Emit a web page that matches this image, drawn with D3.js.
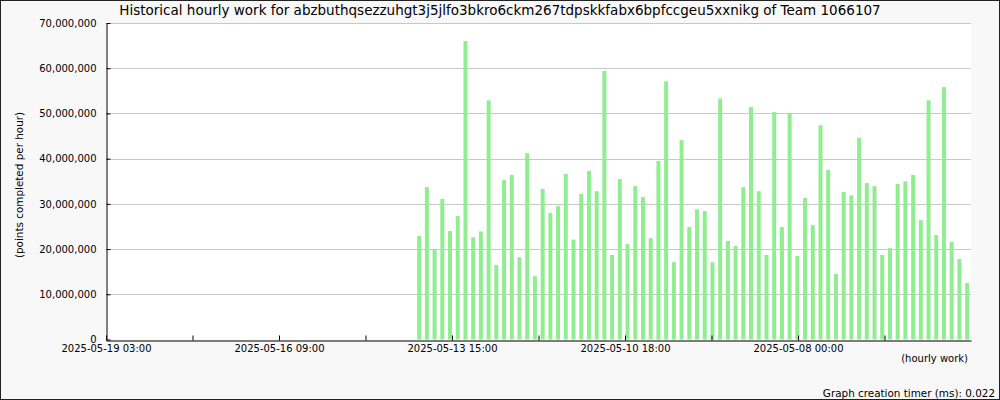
<!DOCTYPE html>
<html><head><meta charset="utf-8">
<script src="https://cdn.jsdelivr.net/npm/d3@7"></script>
<style>html,body{margin:0;padding:0;background:#fff}svg{display:block}text{font-family:"DejaVu Sans",sans-serif;fill:#000}</style>
</head><body>
<svg id="c" width="1000" height="400"></svg>
<script>
const titleText = "Historical hourly work for abzbuthqsezzuhgt3j5jlfo3bkro6ckm267tdpskkfabx6bpfccgeu5xxnikg of Team 1066107";
const yLabelText = "(points completed per hour)";
const xLabelText = "(hourly work)";
const footerText = "Graph creation timer (ms): 0.022";
// hours elapsed back in time from the left edge
const axisHours = [0, 330];
const tickHours = [0, 33, 66, 99, 132, 165, 198, 231, 264, 297];
const tickLabels = ["2025-05-19 03:00", "", "2025-05-16 09:00", "", "2025-05-13 15:00", "", "2025-05-10 18:00", "", "2025-05-08 00:00", ""];
const firstBarHour = 118;
const yTicks = [0, 10e6, 20e6, 30e6, 40e6, 50e6, 60e6, 70e6];
const values = [
 22.9, 33.7, 20.0, 31.1, 24.0, 27.3, 66.0, 22.6, 23.9, 52.9,
 16.5, 35.3, 36.4, 18.2, 41.2, 14.0, 33.3, 28.0, 29.5, 36.6,
 22.1, 32.2, 37.3, 32.8, 59.4, 18.7, 35.5, 21.1, 33.9, 31.5,
 22.4, 39.5, 57.1, 17.1, 44.1, 24.9, 28.8, 28.4, 17.1, 53.3,
 21.8, 20.7, 33.7, 51.4, 32.8, 18.7, 50.3, 24.9, 50.1, 18.5,
 31.3, 25.3, 47.4, 37.5, 14.5, 32.6, 31.9, 44.6, 34.6, 33.9,
 18.7, 20.2, 34.4, 35.0, 36.4, 26.4, 52.9, 23.1, 55.8, 21.6,
 17.8, 12.5
].map(v => v * 1e6);

const W = 1000, H = 400;
const m = {left: 106, right: 29, top: 23, bottom: 60.5};
const svg = d3.select("#c");

svg.append("rect").attr("x", 0.5).attr("y", 0.5).attr("width", W - 1).attr("height", H - 1)
  .attr("fill", "#f8f8f8").attr("stroke", "#222");

const x = d3.scaleLinear().domain(axisHours).range([m.left, W - m.right]);
const y = d3.scaleLinear().domain([0, 70e6]).range([H - m.bottom, m.top]);
const xb = d3.scaleBand().domain(d3.range(values.length))
  .range([x(firstBarHour), x(axisHours[1])]).paddingInner(0.482).paddingOuter(0.241);

svg.append("rect").attr("x", m.left).attr("y", m.top).attr("width", W - m.right - m.left)
  .attr("height", H - m.bottom - m.top).attr("fill", "#fff");

// gridlines
svg.append("g").selectAll("line").data(yTicks.filter(d => d > 0)).join("line")
  .attr("x1", m.left).attr("x2", W - m.right)
  .attr("y1", d => Math.round(y(d)) + 0.5).attr("y2", d => Math.round(y(d)) + 0.5)
  .attr("stroke", "#c8c8c8");

// bars
svg.append("g").selectAll("rect").data(values).join("rect")
  .attr("x", (d, i) => xb(i)).attr("width", xb.bandwidth())
  .attr("y", d => y(d)).attr("height", d => y(0) - y(d))
  .attr("fill", "#90ee90");

// y axis
const ya = svg.append("g").attr("transform", `translate(${m.left + 0.5},0)`)
  .call(d3.axisLeft(y).tickValues(yTicks).tickFormat(d3.format(",")).tickSizeInner(-4).tickSizeOuter(0).tickPadding(10));
ya.select(".domain").attr("stroke", "#000");
ya.selectAll(".tick line").attr("stroke", "#000");
ya.selectAll("text").style("font-size", "10px").style("font-family", "DejaVu Sans");

// x axis
const xa = svg.append("g").attr("transform", `translate(0,${Math.round(y(0)) + 0.5})`)
  .call(d3.axisBottom(x).tickValues(tickHours).tickFormat((d, i) => tickLabels[i]).tickSizeInner(-5).tickSizeOuter(0).tickPadding(4));
xa.select(".domain").attr("stroke", "#000");
xa.selectAll(".tick line").attr("stroke", "#000");
xa.selectAll("text").style("font-size", "10px").style("font-family", "DejaVu Sans");

svg.append("text").attr("x", 500).attr("y", 15).attr("text-anchor", "middle")
  .style("font-size", "13.5px").text(titleText);
svg.append("text").attr("transform", "translate(23,185) rotate(-90)").attr("text-anchor", "middle")
  .style("font-size", "10.4px").text(yLabelText);
svg.append("text").attr("x", 968).attr("y", 362).attr("text-anchor", "end")
  .style("font-size", "10px").text(xLabelText);
svg.append("text").attr("x", 995).attr("y", 397).attr("text-anchor", "end")
  .style("font-size", "10.4px").text(footerText);
</script>
</body></html>
